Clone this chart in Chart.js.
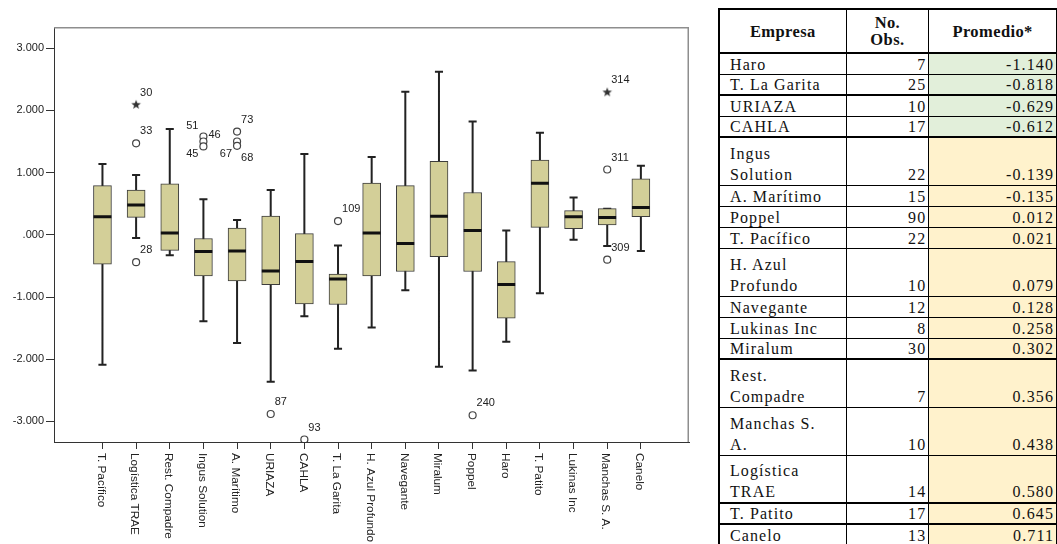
<!DOCTYPE html>
<html>
<head>
<meta charset="utf-8">
<script src="https://cdn.jsdelivr.net/npm/chart.js@4.4.0/dist/chart.umd.min.js"></script>
<style>
body { margin: 0; background: #fff; width: 1057px; height: 544px; overflow: hidden; position: relative; }
#grafica { position: absolute; left: 0; top: 0; }
#tabla { position: absolute; left: 718px; top: 8px; border-collapse: collapse; table-layout: fixed;
         font-family: 'Liberation Serif', 'Times New Roman', serif; font-size: 16px; letter-spacing: 1.1px; color: #111; }
#tabla th, #tabla td { border: 1px solid #000; padding: 0 3px 0 3px; }
#tabla th { height: 42px; font-weight: bold; text-align: center; vertical-align: middle; line-height: 17px; letter-spacing: 0.4px; font-size: 16.5px; }
#tabla td { vertical-align: bottom; line-height: 19px; white-space: pre-line; overflow: hidden; }
#tabla tr.d td { line-height: 21px; }
#tabla td:first-child { padding-left: 10px; }
#tabla tr.s td { height: 20px; }
#tabla tr.d td { height: 47px; }
#tabla tr.s.g td { height: 19px; }
#tabla tr.d.g td { height: 46px; }
#tabla td.n { text-align: right; padding-right: 2px; }
#tabla thead tr th { border-top: 2px solid #000; border-bottom: 2px solid #000; }
#tabla tr > :first-child { border-left: 2px solid #000; }
#tabla tr.g td { border-bottom: 2px solid #000; }
</style>
</head>
<body>
<canvas id="grafica" width="705" height="544"></canvas>
<table id="tabla">
  <colgroup><col style="width:129px"><col style="width:85px"><col style="width:130px"></colgroup>
  <thead><tr><th>Empresa</th><th>No.<br>Obs.</th><th>Promedio*</th></tr></thead>
  <tbody id="cuerpo"></tbody>
</table>
<script>
// Diagrama de caja por empresa
const empresas = ['T. Pacífico', 'Logística TRAE', 'Rest. Compadre', 'Ingus Solution', 'A. Marítimo', 'URIAZA', 'CAHLA',
    'T. La Garita', 'H. Azul Profundo', 'Navegante', 'Miralum', 'Poppel', 'Haro', 'T. Patito', 'Lukinas Inc', 'Manchas S. A.', 'Canelo'];
const bigoteInf = [-2.09, -0.05, -0.33, -1.39, -1.74, -2.36, -1.31, -1.83, -1.49, -0.89, -2.12, -2.18, -1.72, -0.94, -0.08, -0.18, -0.26];
const cuartil1  = [-0.47,  0.28, -0.25, -0.66, -0.74, -0.80, -1.11, -1.12, -0.66, -0.59, -0.35, -0.59, -1.34,  0.12,  0.10,  0.16,  0.29];
const mediana   = [ 0.29,  0.48,  0.03, -0.27, -0.26, -0.58, -0.43, -0.71,  0.03, -0.14,  0.30,  0.07, -0.80,  0.83,  0.29,  0.28,  0.44];
const cuartil3  = [ 0.79,  0.72,  0.82, -0.06,  0.11,  0.30,  0.02, -0.63,  0.83,  0.79,  1.18,  0.68, -0.43,  1.20,  0.39,  0.42,  0.90];
const bigoteSup = [ 1.14,  0.96,  1.70,  0.57,  0.24,  0.72,  1.30, -0.17,  1.25,  2.30,  2.62,  1.82,  0.07,  1.64,  0.60,  0.42,  1.11];

// valores atípicos (índice de empresa, valor, número de caso, extremo)
const atipEmpresa = [1, 1, 1, 3, 3, 3, 4, 4, 4, 5, 6, 7, 11, 15, 15, 15];
const atipValor   = [2.09, 1.47, -0.44, 1.58, 1.50, 1.42, 1.66, 1.50, 1.43, -2.88, -3.29, 0.22, -2.90, 2.29, 1.05, -0.40];
const atipCaso    = ['30', '33', '28', '51', '46', '45', '73', '67', '68', '87', '93', '109', '240', '314', '311', '309'];
const atipExtremo = [true, false, false, false, false, false, false, false, false, false, false, false, false, true, false, false];

const ticksY = [-3, -2, -1, 0, 1, 2, 3];

// tabla
const tablaEmpresa = ['Haro', 'T. La Garita', 'URIAZA', 'CAHLA', 'Ingus\nSolution', 'A. Marítimo', 'Poppel', 'T. Pacífico',
    'H. Azul\nProfundo', 'Navegante', 'Lukinas Inc', 'Miralum', 'Rest.\nCompadre', 'Manchas S.\nA.', 'Logística\nTRAE', 'T. Patito', 'Canelo'];
const tablaObs = [7, 25, 10, 17, 22, 15, 90, 22, 10, 12, 8, 30, 7, 10, 14, 17, 13];
const tablaProm = [-1.140, -0.818, -0.629, -0.612, -0.139, -0.135, 0.012, 0.021, 0.079, 0.128, 0.258, 0.302, 0.356, 0.438, 0.580, 0.645, 0.711];

// posición de algunas etiquetas de casos (dx, dy, alineación)
const posEtiqueta = { '51': [-5, -11, 'right'], '46': [5, -7, 'left'], '45': [-5, 8, 'right'], '67': [-5, 12, 'right'], '68': [4, 12, 'left'] };

const cuerpo = document.getElementById('cuerpo');
const filasGruesas = [1, 3, 11, 14, 15];
tablaEmpresa.forEach((nombre, i) => {
    const tr = document.createElement('tr');
    tr.className = (nombre.includes('\n') ? 'd' : 's') + (filasGruesas.includes(i) ? ' g' : '');
    const fondo = tablaProm[i] < -0.5 ? '#e2efda' : '#fff2cc';
    tr.innerHTML = `<td>${nombre}</td><td class="n">${tablaObs[i]}</td><td class="n" style="background:${fondo}">${tablaProm[i].toFixed(3)}</td>`;
    cuerpo.appendChild(tr);
});

function estrella(r) {
    const c = document.createElement('canvas');
    c.width = c.height = 2 * r + 2;
    const g = c.getContext('2d');
    g.fillStyle = '#333';
    g.beginPath();
    for (let i = 0; i < 10; i++) {
        const a = -Math.PI / 2 + i * Math.PI / 5;
        const rr = i % 2 ? r * 0.42 : r;
        g.lineTo(r + 1 + rr * Math.cos(a), r + 1 + rr * Math.sin(a));
    }
    g.closePath();
    g.fill();
    return c;
}

const cajas = empresas.map((_, i) => ({ x: i, y: [cuartil1[i], cuartil3[i]] }));
const bigotes = [], topes = [], medianas = [];
empresas.forEach((_, i) => {
    bigotes.push({ x: i, y: bigoteInf[i] }, { x: i, y: bigoteSup[i] }, { x: i, y: null });
    topes.push({ x: i - 0.12, y: bigoteInf[i] }, { x: i + 0.12, y: bigoteInf[i] }, { x: i, y: null });
    topes.push({ x: i - 0.12, y: bigoteSup[i] }, { x: i + 0.12, y: bigoteSup[i] }, { x: i, y: null });
    medianas.push({ x: i - 0.265, y: mediana[i] }, { x: i + 0.265, y: mediana[i] }, { x: i, y: null });
});
const circulos = [], estrellas = [];
atipValor.forEach((v, k) => {
    const p = { x: atipEmpresa[k], y: v, caso: atipCaso[k] };
    (atipExtremo[k] ? estrellas : circulos).push(p);
});

const fuente = "'Liberation Sans', Arial, sans-serif";

const marco = {
    id: 'marco',
    beforeDatasetsDraw(chart) {
        const { ctx, chartArea: a } = chart;
        ctx.save();
        ctx.strokeStyle = '#8e8e8e';
        ctx.lineWidth = 1.5;
        ctx.beginPath();
        ctx.moveTo(a.left, a.top + 0.75);
        ctx.lineTo(a.right - 0.75, a.top + 0.75);
        ctx.lineTo(a.right - 0.75, a.bottom);
        ctx.stroke();
        ctx.restore();
    },
    afterDraw(chart) {
        const { ctx, chartArea: a, scales } = chart;
        ctx.save();
        ctx.fillStyle = '#222';
        ctx.font = '11.8px ' + fuente;
        // etiquetas del eje x, giradas
        empresas.forEach((nombre, i) => {
            const x = scales.x.getPixelForValue(i);
            ctx.save();
            ctx.translate(x - 1.5, a.bottom + 11);
            ctx.rotate(Math.PI / 2);
            ctx.textAlign = 'left';
            ctx.textBaseline = 'middle';
            ctx.fillText(nombre, 0, 0);
            ctx.restore();
        });
        // números de caso
        ctx.font = '11px ' + fuente;
        ctx.textBaseline = 'middle';
        atipValor.forEach((v, k) => {
            const px = scales.x.getPixelForValue(atipEmpresa[k]);
            const py = scales.y.getPixelForValue(v);
            const [dx, dy, al] = posEtiqueta[atipCaso[k]] || [4, -12, 'left'];
            ctx.textAlign = al;
            ctx.fillText(atipCaso[k], px + dx, py + dy);
        });
        ctx.restore();
    }
};

new Chart(document.getElementById('grafica'), {
    data: {
        datasets: [
            { type: 'line', data: medianas, borderColor: '#111', borderWidth: 3, pointRadius: 0, spanGaps: false, order: 0 },
            { type: 'scatter', data: circulos, pointStyle: 'circle', pointRadius: 3.5, pointBorderWidth: 1.2,
              pointBorderColor: '#444', pointBackgroundColor: '#fff', order: 0 },
            { type: 'scatter', data: estrellas, pointStyle: estrella(5), order: 0 },
            { type: 'bar', data: cajas, backgroundColor: 'rgb(211,207,152)', borderColor: '#3c3c3c', borderWidth: 1,
              borderSkipped: false, barThickness: 18, order: 1 },
            { type: 'line', data: bigotes, borderColor: '#222', borderWidth: 2, pointRadius: 0, spanGaps: false, order: 2 },
            { type: 'line', data: topes, borderColor: '#222', borderWidth: 2, pointRadius: 0, spanGaps: false, order: 2 }
        ]
    },
    options: {
        responsive: false,
        animation: false,
        events: [],
        layout: { padding: { top: 27, right: 16, left: 0, bottom: 0 } },
        plugins: { legend: { display: false }, tooltip: { enabled: false } },
        scales: {
            x: {
                type: 'linear', min: -1.44, max: 17.43, offset: false,
                afterBuildTicks: s => { s.ticks = empresas.map((_, i) => ({ value: i })); },
                afterFit: s => { s.height = 102; },
                ticks: { callback: () => '', autoSkip: false },
                grid: { drawOnChartArea: false, drawTicks: true, tickLength: 7, color: '#333', offset: false },
                border: { color: '#333', width: 1 }
            },
            y: {
                min: -3.33, max: 3.34,
                afterBuildTicks: s => { s.ticks = ticksY.map(v => ({ value: v })); },
                afterFit: s => { s.width = 54; },
                ticks: {
                    color: '#222', padding: 2, font: { family: fuente, size: 11 },
                    callback: v => v === 0 ? '.000' : v.toFixed(3)
                },
                grid: { drawOnChartArea: false, drawTicks: true, tickLength: 8, color: '#333' },
                border: { color: '#333', width: 1 }
            }
        }
    },
    plugins: [marco]
});
</script>
</body>
</html>
